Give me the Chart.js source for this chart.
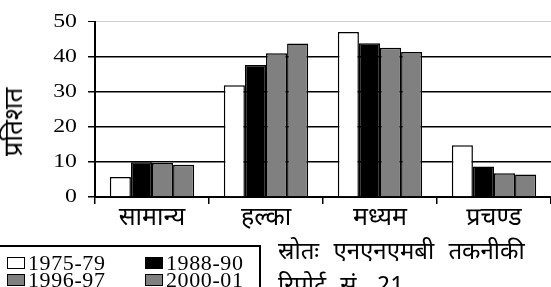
<!DOCTYPE html>
<html>
<head>
<meta charset="utf-8">
<script src="https://cdn.jsdelivr.net/npm/chart.js@4"></script>
<style>
  html, body { margin: 0; padding: 0; background: #fff; }
  #wrap { position: relative; width: 551px; height: 287px; overflow: hidden; }
  #c { position: absolute; left: 0; top: 0; }
  .deva { font-family: "Noto Sans Devanagari", "Lohit Devanagari", "FreeSerif", "Noto Serif Devanagari", sans-serif; }
  #ytitle { position: absolute; left: 16px; top: 122px; transform: translate(-50%, -50%) rotate(-90deg); font-size: 26px; line-height: 26px; white-space: nowrap; color: #000; }
  #legend { position: absolute; left: -4px; top: 245px; width: 265px; height: 60px; border: 2px solid #000; background: #fff; box-sizing: border-box; }
  .li { position: absolute; font-family: "Liberation Serif", serif; font-size: 22px; letter-spacing: 0.6px; line-height: 17px; height: 17px; color: #000; white-space: nowrap; }
  .sw { position: absolute; left: 0; top: 3px; width: 16px; height: 10px; border: 1px solid #000; }
  .lt { position: absolute; left: 21px; top: 0; }
  #source { position: absolute; left: 278px; top: 236px; font-size: 24px; line-height: 34px; color: #000; word-spacing: 8px; white-space: nowrap; }
</style>
</head>
<body>
<div id="wrap">
  <canvas id="c" width="551" height="287"></canvas>
  <div id="ytitle" class="deva"></div>
  <div id="legend"></div>
  <div id="source" class="deva"></div>
</div>
<script>
const categories = ['सामान्य', 'हल्का', 'मध्यम', 'प्रचण्ड'];
const seriesNames = ['1975-79', '1988-90', '1996-97', '2000-01'];
const v1975_79 = [5.7, 31.9, 47.1, 14.8];
const v1988_90 = [9.9, 37.7, 43.9, 8.7];
const v1996_97 = [9.7, 41.0, 42.6, 6.8];
const v2000_01 = [9.2, 43.8, 41.4, 6.4];
const seriesColors = ['#ffffff', '#000000', '#808080', '#808080'];
const yTitle = 'प्रतिशत';
const sourceLines = ['स्रोतः एनएनएमबी तकनीकी', 'रिपोर्ट सं. 21'];
const yMin = 0, yMax = 50, yStep = 10;

const seriesValues = [v1975_79, v1988_90, v1996_97, v2000_01];

document.getElementById('ytitle').textContent = yTitle;
document.getElementById('source').innerHTML = sourceLines.join('<br>');

// legend items (positions in page coordinates)
const legendPos = [[7, 254], [145, 254], [7, 271], [145, 271]];
const lg = document.getElementById('legend');
seriesNames.forEach((n, i) => {
  const d = document.createElement('div');
  d.className = 'li';
  d.style.left = (legendPos[i][0] + 4 - 2) + 'px';
  d.style.top = (legendPos[i][1] - 245 - 2) + 'px';
  const s = document.createElement('span');
  s.className = 'sw';
  s.style.background = seriesColors[i];
  const t = document.createElement('span');
  t.className = 'lt';
  t.textContent = n;
  d.appendChild(s);
  d.appendChild(t);
  lg.appendChild(d);
});

// horizontally widen serif canvas text (the reference uses expanded digits)
const canvas = document.getElementById('c');
const ctx2d = canvas.getContext('2d');
const origFill = ctx2d.fillText.bind(ctx2d);
ctx2d.fillText = function (text, x, y, maxW) {
  const sx = /Liberation Serif/.test(this.font) ? 1.32 : 1;
  if (sx === 1) return origFill(text, x, y);
  this.save();
  this.translate(x, y);
  this.scale(sx, 1);
  origFill(text, 0, 0);
  this.restore();
};

new Chart(canvas, {
  type: 'bar',
  data: {
    labels: categories,
    datasets: seriesNames.map((n, i) => ({
      label: n,
      data: seriesValues[i],
      backgroundColor: seriesColors[i],
      borderColor: '#000',
      borderWidth: 1.5,
      categoryPercentage: 0.74,
      barPercentage: 1.0
    }))
  },
  options: {
    responsive: false,
    animation: false,
    devicePixelRatio: 1,
    layout: { padding: { top: 21, right: 0, left: 0, bottom: 0 } },
    plugins: { legend: { display: false }, tooltip: { enabled: false }, title: { display: false } },
    scales: {
      x: {
        afterFit: (s) => { s.height = 90; },
        border: { display: true, color: '#000', width: 2 },
        grid: { display: true, drawOnChartArea: false, drawTicks: true, tickLength: 7, color: '#000', lineWidth: 1.5, offset: true },
        ticks: {
          color: '#000',
          padding: 1,
          maxRotation: 0,
          font: { family: '"Noto Sans Devanagari", "Lohit Devanagari", "FreeSerif", sans-serif', size: 25 }
        }
      },
      y: {
        min: yMin, max: yMax,
        afterFit: (s) => { s.width = 95; },
        border: { display: true, color: '#000', width: 2 },
        grid: {
          color: (ctx) => ctx.tick.value === yMax ? '#d0d0d0' : (ctx.tick.value === yMin ? 'rgba(0,0,0,0)' : '#000'),
          lineWidth: (ctx) => ctx.tick.value === yMax ? 1 : 1.5,
          tickColor: '#000',
          tickLength: 7,
          drawTicks: true
        },
        ticks: {
          stepSize: yStep,
          color: '#000',
          padding: 11,
          font: { family: '"Liberation Serif", serif', size: 18 }
        }
      }
    }
  }
});
</script>
</body>
</html>
